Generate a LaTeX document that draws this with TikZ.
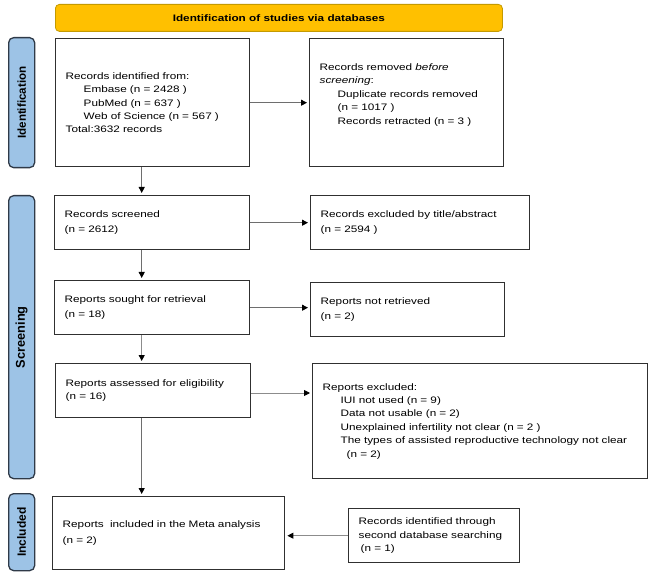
\documentclass[tikz,border=0pt]{standalone}
\usepackage{fontspec}
\setmainfont{Liberation Sans}[FakeStretch=1.25]
\newfontfamily\sidefont{Liberation Sans}
\usetikzlibrary{arrows.meta}
\definecolor{bannerfill}{HTML}{FFC000}
\definecolor{bannerdraw}{HTML}{C49A00}
\definecolor{sidefill}{HTML}{9DC3E6}
\definecolor{sidedraw}{HTML}{2F3A48}
\definecolor{boxdraw}{HTML}{303030}
\definecolor{arrowcol}{HTML}{6E6E6E}
\definecolor{arrowlight}{HTML}{8C8C8C}
\begin{document}
\begin{tikzpicture}[x=1pt,y=-1pt,
  box/.style={draw=boxdraw, line width=1.4pt, anchor=north west, align=left,
    inner ysep=0pt, font=\fontsize{9.4}{13.4}\selectfont},
  banner/.style={draw=bannerdraw, fill=bannerfill, line width=0.8pt, rounded corners=4pt,
    anchor=north west, inner sep=0pt, font=\bfseries\fontsize{9.4}{11}\selectfont},
  side/.style={draw=sidedraw, fill=sidefill, line width=1.3pt, rounded corners=5pt,
    anchor=north west, inner sep=0pt, minimum width=26pt},
  flow/.style={-{Triangle[length=6pt,width=6pt,color=black]}, line width=0.9pt,
    draw=arrowcol, shorten >=2pt},
  flowlight/.style={flow, draw=arrowlight}
]
\useasboundingbox (0,0) rectangle (649,575);

% banner
\node[banner, minimum width=447pt, minimum height=27pt] (ban) at (55,4) {Identification of studies via databases};

% side labels
\node[side, minimum height=130pt] (sid1) at (8,37)
  {\rotatebox{90}{\sidefont\bfseries\fontsize{11.6}{12}\selectfont Identification}};
\node[side, minimum height=283pt] (sid2) at (8,195)
  {\rotatebox{90}{\sidefont\bfseries\fontsize{12.8}{13}\selectfont Screening}};
\node[side, minimum height=77pt] (sid3) at (8,493)
  {\rotatebox{90}{\sidefont\bfseries\fontsize{12}{13}\selectfont Included}};

% boxes
\node[box, inner xsep=10pt, text width=174pt, minimum height=128pt] (b1) at (55,38)
  {Records identified from:\\
   \hspace*{18pt}Embase (n = 2428 )\\
   \hspace*{18pt}PubMed (n = 637 )\\
   \hspace*{18pt}Web of Science (n = 567 )\\
   Total:3632 records};
\node[box, inner xsep=10pt, text width=174pt, minimum height=128pt] (b2) at (309,38)
  {Records removed \textit{before}\\
   \textit{screening}:\\
   \hspace*{18pt}Duplicate records removed\\
   \hspace*{18pt}(n = 1017 )\\
   \hspace*{18pt}Records retracted (n = 3 )\\
   \strut};
\node[box, inner xsep=10pt, text width=175pt, minimum height=54pt] (b3) at (54,195)
  {Records screened\\[2pt](n = 2612)};
\node[box, inner xsep=10pt, text width=199pt, minimum height=54pt] (b4) at (310,195)
  {Records excluded by title/abstract\\[2pt](n = 2594 )};
\node[box, inner xsep=10pt, text width=175pt, minimum height=54pt] (b5) at (54,280)
  {Reports sought for retrieval\\[2pt](n = 18)};
\node[box, inner xsep=10pt, text width=174pt, minimum height=54pt] (b6) at (310,282)
  {Reports not retrieved\\[2pt](n = 2)};
\node[box, inner xsep=10pt, text width=175pt, minimum height=54pt] (b7) at (55,363)
  {Reports assessed for eligibility\\(n = 16)};
\node[box, inner xsep=10pt, text width=315pt, minimum height=115pt] (b8) at (312,363)
  {Reports excluded:\\
   \hspace*{18pt}IUI not used (n = 9)\\
   \hspace*{18pt}Data not usable (n = 2)\\
   \hspace*{18pt}Unexplained infertility not clear (n = 2 )\\
   \hspace*{18pt}The types of assisted reproductive technology not clear\\
   \hspace*{24pt}(n = 2)};
\node[box, inner xsep=10pt, text width=212pt, minimum height=73pt] (b9) at (52,496)
  {Reports\ \ included in the Meta analysis\\[2pt](n = 2)};
\node[box, inner xsep=10pt, text width=151pt, minimum height=54pt] (b10) at (348,508)
  {Records identified through\\second database searching\\\hspace*{2pt}(n = 1)};

% connectors
\coordinate (ax) at (141.7,0);
\coordinate (a78) at (0,393);
\draw[flow] (b1.south -| ax) -- (b3.north -| ax);
\draw[flow] (b3.south -| ax) -- (b5.north -| ax);
\draw[flowlight] (b5.south -| ax) -- (b7.north -| ax);
\draw[flow] (b7.south -| ax) -- (b9.north -| ax);
\draw[flow] (b1.east) -- (b2.west);
\draw[flow] (b3.east) -- (b4.west);
\draw[flow] (b5.east) -- (b5.east -| b6.west);
\draw[flowlight] (b7.east |- a78) -- (b8.west |- a78);
\draw[flowlight] (b10.west) -- (b10.west -| b9.east);
\end{tikzpicture}
\end{document}
